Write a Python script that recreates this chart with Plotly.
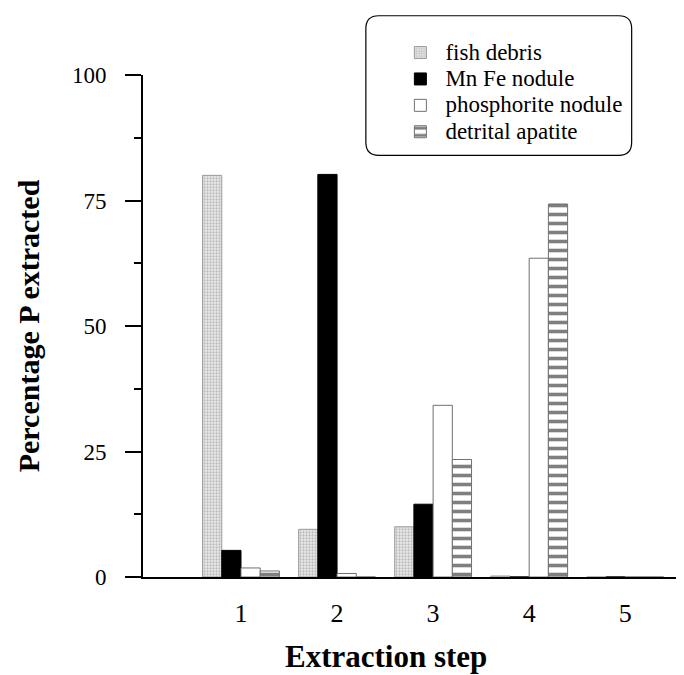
import plotly.graph_objects as go

steps = [1, 2, 3, 4, 5]
fish_debris = [80.0, 9.5, 10.0, 0.2, 0.0]
mn_fe_nodule = [5.3, 80.2, 14.5, 0.0, 0.0]
phosphorite_nodule = [1.8, 0.7, 34.2, 63.5, 0.0]
detrital_apatite = [1.2, 0.0, 23.4, 74.3, 0.0]
series_names = ["fish debris", "Mn Fe nodule", "phosphorite nodule", "detrital apatite"]
y_ticks = [0, 25, 50, 75, 100]

FONT = "Liberation Serif"


def lname(s):
    return f"<span style='font-size:23px'>{s}</span>"


fig = go.Figure()
fig.add_bar(x=steps, y=fish_debris, name=lname(series_names[0]),
            marker=dict(color="white", line=dict(color="#9a9a9a", width=1),
                        pattern=dict(shape=".", fgcolor="#8a8a8a", bgcolor="#ececec", size=3, solidity=0.45)))
fig.add_bar(x=steps, y=mn_fe_nodule, name=lname(series_names[1]),
            marker=dict(color="black", line=dict(color="black", width=1)))
fig.add_bar(x=steps, y=phosphorite_nodule, name=lname(series_names[2]),
            marker=dict(color="white", line=dict(color="#707070", width=1)))
fig.add_bar(x=steps, y=detrital_apatite, name=lname(series_names[3]),
            marker=dict(color="white", line=dict(color="#707070", width=1),
                        pattern=dict(shape="-", fgcolor="black", bgcolor="white", size=9, solidity=0.4)))

# rounded legend box (paper coords)
x0, x1 = 0.415, 0.91
y0, y1 = 0.84, 1.118
rx, ry = 0.024, 0.026
path = (f"M {x0+rx},{y1} L {x1-rx},{y1} Q {x1},{y1} {x1},{y1-ry} "
        f"L {x1},{y0+ry} Q {x1},{y0} {x1-rx},{y0} L {x0+rx},{y0} "
        f"Q {x0},{y0} {x0},{y0+ry} L {x0},{y1-ry} Q {x0},{y1} {x0+rx},{y1} Z")
fig.add_shape(type="path", path=path, xref="paper", yref="paper",
              line=dict(color="black", width=1.2), fillcolor="rgba(0,0,0,0)")

fig.add_annotation(text="<b>Extraction step</b>", xref="paper", yref="paper",
                   x=0.453, y=-0.159, xanchor="center", yanchor="middle",
                   showarrow=False, font=dict(family=FONT, size=31, color="black"))

fig.update_layout(
    width=684, height=675,
    margin=dict(l=135, r=12, t=67, b=106, autoexpand=False),
    paper_bgcolor="white", plot_bgcolor="white",
    barmode="group", bargap=0.2, bargroupgap=0,
    font=dict(family=FONT, color="black", size=20),
    showlegend=True,
    legend=dict(x=0.47, y=1.081, xanchor="left", yanchor="top",
                bgcolor="rgba(0,0,0,0)", borderwidth=0,
                font=dict(family=FONT, size=18, color="black"), tracegroupgap=0,
                itemwidth=40),
    xaxis=dict(range=[-0.02, 5.57], tickvals=steps, ticktext=[str(s) for s in steps],
               showline=True, linecolor="black", linewidth=2, ticks="",
               showgrid=False, zeroline=False, ticklabelstandoff=12,
               tickfont=dict(family=FONT, size=26)),
    yaxis=dict(range=[0, 100], tickvals=y_ticks, ticktext=[str(v) for v in y_ticks],
               showline=True, linecolor="black", linewidth=2,
               ticks="outside", ticklen=16, tickwidth=1.5, tickcolor="black",
               minor=dict(dtick=12.5, tick0=0, ticks="outside", ticklen=7, tickwidth=1.5, tickcolor="black"),
               showgrid=False, zeroline=False, ticklabelstandoff=14,
               tickfont=dict(family=FONT, size=23),
               title=dict(text="<b>Percentage P extracted</b>", standoff=23,
                          font=dict(family=FONT, size=30))),
)

fig.write_html("out.html")
